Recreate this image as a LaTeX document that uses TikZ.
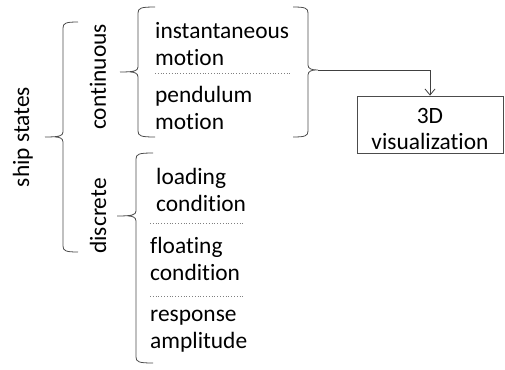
\documentclass[tikz,border=0pt]{standalone}
\usepackage{fontspec}
\setmainfont[Ligatures=NoCommon,RawFeature={-calt}]{Carlito}
\usetikzlibrary{arrows.meta}
\tikzset{
  brace/.style={draw=black!70, line width=0.8pt},
  sep/.style={draw=black!50, dotted, line width=0.8pt},
  txt/.style={font=\fontsize{23.4}{26.5}\selectfont, align=left, anchor=west, inner sep=0pt},
  vtxt/.style={font=\fontsize{23.4}{26.5}\selectfont, rotate=90, inner sep=0pt},
  box/.style={draw=black!70, line width=0.8pt, minimum width=146pt, minimum height=57pt, inner sep=0pt},
  boxtxt/.style={font=\fontsize{23.4}{26}\selectfont, align=center, inner sep=0pt},
  link/.style={draw=black!75, line width=0.8pt, -{Straight Barb[length=6pt,width=10pt]}}
}
% left brace: vertical x, end x, tip x, top y, middle y, bottom y
\newcommand\bracketL[6]{%
  \draw[brace] (#2,#4) .. controls (#1+3,#4) and (#1,#4+1) .. (#1,#4+6)
    -- (#1,#5-5) .. controls (#1,#5-1) and (#1-4,#5) .. (#3,#5)
    (#1-8,#5) .. controls (#1-4,#5) and (#1,#5+1) .. (#1,#5+5)
    -- (#1,#6-6) .. controls (#1,#6-1) and (#1+3,#6) .. (#2,#6);}
% right brace: vertical x, end x, tip x, top y, middle y, bottom y
\newcommand\bracketR[6]{%
  \draw[brace] (#2,#4) .. controls (#1-3,#4) and (#1,#4+1) .. (#1,#4+6)
    -- (#1,#5-5) .. controls (#1,#5-1) and (#1+4,#5) .. (#3,#5)
    (#1+8,#5) .. controls (#1+4,#5) and (#1,#5+1) .. (#1,#5+5)
    -- (#1,#6-6) .. controls (#1,#6-1) and (#1-3,#6) .. (#2,#6);}
\begin{document}
\begin{tikzpicture}[x=1pt,y=-1pt]
\useasboundingbox (0,0) rectangle (505,369);

% category labels
\node[vtxt] (ship) at (23,137) {ship states};
\node[vtxt] (cont) at (98,77) {continuous};
\node[vtxt] (disc) at (98,216) {discrete};

% braces
\bracketL{63}{78}{45}{22}{137}{252}
\bracketL{138}{155}{120}{7}{72}{137}
\bracketR{308}{293}{318}{7}{70}{137}
\bracketL{136}{153}{117}{153}{216}{363}

% continuous items
\node[txt] (inst) at (155,44) {instantaneous\\motion};
\draw[sep] (155,73) -- (290,73);
\node[txt] (pend) at (155,108) {pendulum\\motion};

% discrete items
\node[txt] (load) at (156,190) {loading\\condition};
\draw[sep] (150,223) -- (245,223);
\node[txt] (float) at (150,259) {floating\\condition};
\draw[sep] (150,296) -- (245,296);
\node[txt] (resp) at (150,331) {response\\amplitude};

% output
\node[box] (vis) at (430,124.5) {};
\node[boxtxt] (vistxt) at (430,129) {3D\\visualization};
\coordinate (tip) at (318,70);
\draw[link] (tip) -| (vis.north);
\end{tikzpicture}
\end{document}
